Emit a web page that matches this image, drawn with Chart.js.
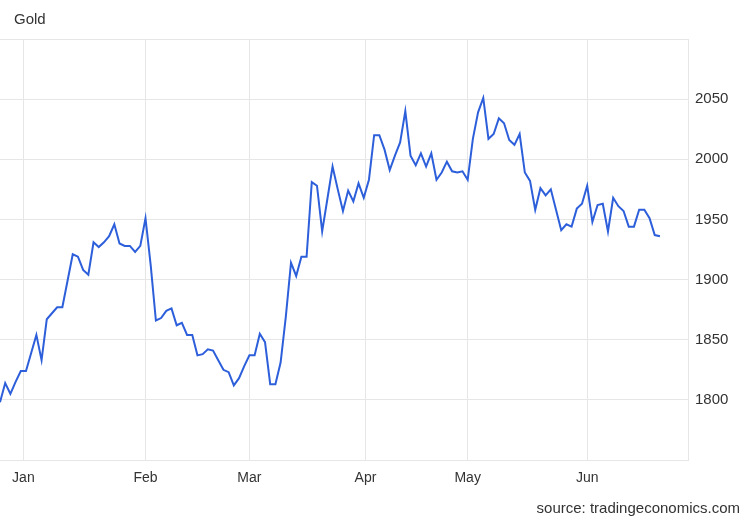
<!DOCTYPE html>
<html>
<head>
<meta charset="utf-8">
<script src="https://cdn.jsdelivr.net/npm/chart.js@4/dist/chart.umd.min.js"></script>
<style>
  body { margin: 0; background: #fff; }
  #wrap { position: relative; width: 750px; height: 520px; }
  #chart { position: absolute; left: 0; top: 0; }
  .txt { position: absolute; font-family: 'Liberation Sans', Arial, sans-serif; color: #333; font-size: 15px; }
  #title { left: 14px; top: 10px; }
  #source { right: 10px; top: 499px; }
</style>
</head>
<body>
<div id="wrap">
  <canvas id="chart" width="750" height="520"></canvas>
  <div class="txt" id="title">Gold</div>
  <div class="txt" id="source">source: tradingeconomics.com</div>
</div>
<script>
// daily gold price, trading days Dec 2022 - Jun 2023
const prices = [
  1798, 1814, 1805, 1815, 1824, 1824, 1839, 1854, 1833, 1867,
  1872, 1877, 1877, 1899, 1921, 1919, 1908, 1904, 1931, 1927,
  1931, 1936, 1946, 1930, 1928, 1928, 1923, 1928, 1951, 1912,
  1866, 1868, 1874, 1876, 1862, 1864, 1854, 1854, 1837, 1838,
  1842, 1841, 1833, 1825, 1823, 1812, 1818, 1828, 1837, 1837,
  1855, 1848, 1813, 1813, 1831, 1869, 1914, 1903, 1919, 1919,
  1981, 1978, 1940, 1967, 1994, 1975, 1957, 1974, 1965, 1980,
  1968, 1983, 2020, 2020, 2008, 1991, 2003, 2014, 2040, 2003,
  1995, 2005, 1994, 2005, 1983, 1989, 1998, 1990, 1989, 1990,
  1983, 2017, 2039, 2051, 2017, 2021, 2034, 2030, 2016, 2012,
  2021, 1989, 1982, 1958, 1976, 1970, 1975, 1958, 1941, 1946,
  1944, 1959, 1963, 1978, 1948, 1962, 1963, 1940, 1968, 1961,
  1957, 1944, 1944, 1958, 1958, 1951, 1937, 1936
];
// month starts, in trading-day index
const monthLabels = ['Jan', 'Feb', 'Mar', 'Apr', 'May', 'Jun'];
const monthPos = [4.5, 28, 48, 70.33, 90, 113];

const points = prices.map((p, i) => ({ x: i, y: p }));
const gridColor = '#e6e6e6';
const family = "'Liberation Sans', Arial, sans-serif";

new Chart(document.getElementById('chart'), {
  type: 'line',
  data: {
    datasets: [{
      data: points,
      borderColor: '#2d5fdb',
      borderWidth: 2,
      pointRadius: 0,
      tension: 0,
      fill: false
    }]
  },
  options: {
    responsive: false,
    animation: false,
    layout: { padding: { top: 39, left: 0, right: 0, bottom: 0 } },
    plugins: { legend: { display: false }, tooltip: { enabled: false } },
    scales: {
      x: {
        type: 'linear',
        min: 0,
        max: 132.4,
        afterBuildTicks: (scale) => {
          scale.ticks = monthPos.map((v) => ({ value: v }));
        },
        afterFit: (scale) => { scale.height = 60; },
        ticks: {
          autoSkip: false,
          maxRotation: 0,
          padding: 10,
          color: '#333',
          font: { family, size: 14 },
          callback: (v) => monthLabels[monthPos.indexOf(v)]
        },
        grid: { color: gridColor, drawTicks: false },
        border: { color: gridColor }
      },
      y: {
        position: 'right',
        min: 1750,
        max: 2100,
        afterFit: (scale) => { scale.width = 62; },
        ticks: {
          stepSize: 50,
          padding: 7,
          color: '#333',
          font: { family, size: 15 },
          callback: (v) => (v === 1750 || v === 2100) ? '' : v
        },
        grid: { color: gridColor, drawTicks: false },
        border: { color: gridColor }
      }
    }
  }
});
</script>
</body>
</html>
